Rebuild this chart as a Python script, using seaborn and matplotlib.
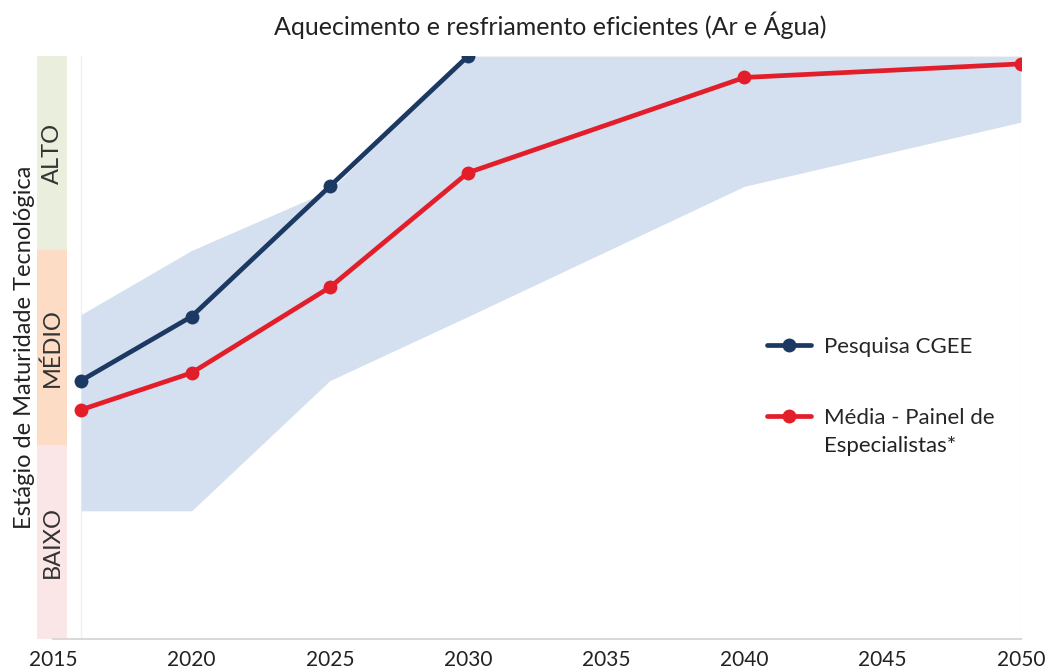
import numpy as np
import pandas as pd
import matplotlib.pyplot as plt
import matplotlib.patches as mpatches
import seaborn as sns

# dados (0 = baixo, 3 = alto)
anos_cgee = [2016, 2020, 2025, 2030]
pesquisa_cgee = [1.33, 1.66, 2.33, 3.0]

anos_painel = [2016, 2020, 2025, 2030, 2040, 2050]
media_painel = [1.18, 1.37, 1.81, 2.40, 2.89, 2.96]
faixa_min = [0.66, 0.66, 1.33, 1.66, 2.33, 2.66]
faixa_max = [1.67, 2.0, 2.31, 3.0, 3.0, 3.0]

niveis = ["BAIXO", "MÉDIO", "ALTO"]
cores_niveis = ["#fbe6e7", "#fddcc6", "#e9efdc"]
xticks = [2015, 2020, 2025, 2030, 2035, 2040, 2045, 2050]

lbl_cgee = "Pesquisa CGEE"
lbl_painel = "Média - Painel de"
lbl_painel_2 = "Especialistas*"

df = pd.concat([
    pd.DataFrame({"ano": anos_cgee, "valor": pesquisa_cgee, "serie": lbl_cgee}),
    pd.DataFrame({"ano": anos_painel, "valor": media_painel, "serie": lbl_painel}),
])

sns.set_theme(style="white")
plt.rcParams['font.family'] = ['Lato', 'DejaVu Sans']

fig = plt.figure(figsize=(10.48, 6.72), dpi=100)
ax = fig.add_axes([0.051, 0.049, 0.923, 0.8675])

ax.fill_between(anos_painel, faixa_min, faixa_max, color="#d4e0ef", lw=0, zorder=1)
for xv in (2016, 2050):
    ax.axvline(xv, color="#f0f0f0", lw=1, zorder=0)

sns.lineplot(data=df, x="ano", y="valor", hue="serie",
             palette={lbl_cgee: "#1c3963", lbl_painel: "#e31e2b"},
             marker="o", markersize=10, markeredgewidth=0, linewidth=3.4,
             ax=ax, zorder=3)

# faixas de nivel a esquerda
for i, (nv, cor) in enumerate(zip(niveis, cores_niveis)):
    ax.add_patch(mpatches.Rectangle((2014.41, i), 1.08, 1, color=cor, lw=0,
                                    clip_on=False, zorder=0))
    ax.text(2014.95, i + 0.5, nv, rotation=90, ha="center", va="center",
            fontsize=17, color="#333333", clip_on=False)

ax.text(2013.97, 1.5, "Estágio de Maturidade Tecnológica", rotation=90,
        ha="center", va="center", fontsize=17, color="#222222")

ax.set_xlim(2015, 2050)
ax.set_ylim(0, 3)
ax.set_xticks(xticks)
ax.set_xticklabels([str(t) for t in xticks], fontsize=15, color="#222222")
ax.tick_params(axis="x", length=0, pad=8)
ax.set_yticks([])
ax.set_xlabel("")
ax.set_ylabel("")
for s in ["top", "right", "left"]:
    ax.spines[s].set_visible(False)
ax.spines["bottom"].set_color("#d9d9d9")
ax.spines["bottom"].set_linewidth(1.5)

fig.text(0.525, 0.962, "Aquecimento e resfriamento eficientes (Ar e Água)",
         ha="center", va="center", fontsize=18, color="#222222")

h, l = ax.get_legend_handles_labels()
leg = ax.legend(h, l, loc="upper left", bbox_to_anchor=(0.717, 0.553), frameon=False,
                fontsize=16, handlelength=2.0, labelspacing=2.3, handletextpad=0.55)

# segunda linha do rotulo, alinhada sob o texto da legenda
fig.canvas.draw()
bb = leg.get_texts()[1].get_window_extent()
x0, y0 = fig.transFigure.inverted().transform((bb.x0, bb.y0 - 28))
fig.text(x0, y0, lbl_painel_2, ha="left", va="bottom", fontsize=16, color="#222222")

fig.savefig("out.png", dpi=100)
